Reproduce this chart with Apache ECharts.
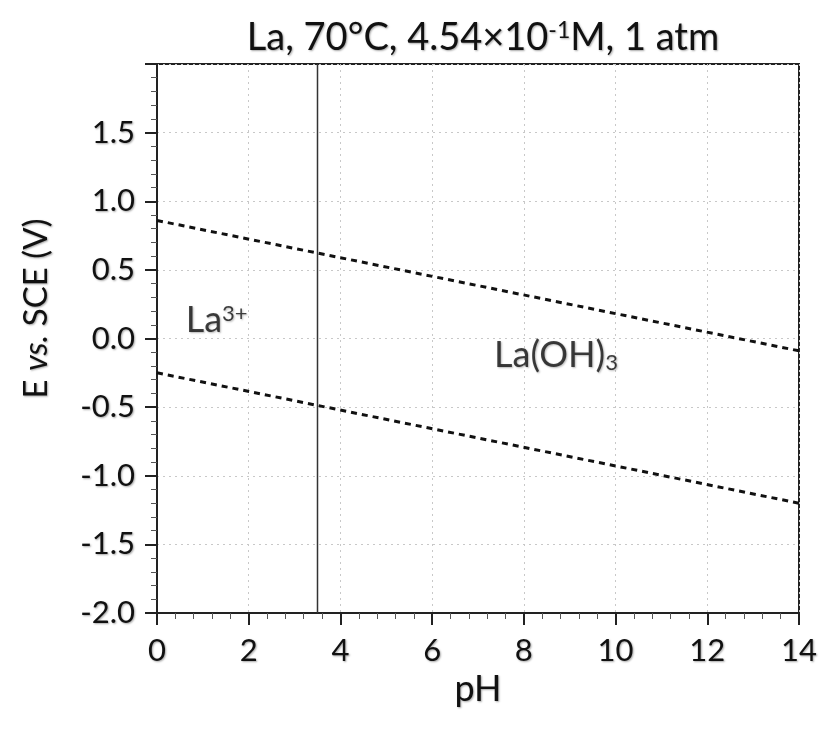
<!DOCTYPE html>
<html>
<head>
<meta charset="utf-8">
<title>La Pourbaix</title>
<script src="https://cdn.jsdelivr.net/npm/echarts@6/dist/echarts.min.js"></script>
<style>
  html, body { margin: 0; padding: 0; background: #fff; }
  #main { width: 823px; height: 731px; }
</style>
</head>
<body>
<div id="main"></div>
<script>
// 数据
const pH = [0, 14];
const upperE = [0.86, -0.09];   // 上方虚线
const lowerE = [-0.25, -1.2];   // 下方虚线
const boundaryPH = 3.5;         // La3+ / La(OH)3 分界
const boundaryE = [-2.0, 2.0];
const regionNames = ["{n|La}{sup|3+}", "{n|La(OH)}{sub|3}"];
const regionPH = [1.3, 8.7];
const regionE = [0.13, -0.12];

const FONT = "Lato";
const shadow = {
  textShadowColor: "rgba(0,0,0,0.35)",
  textShadowBlur: 2,
  textShadowOffsetX: 1,
  textShadowOffsetY: 1,
  textBorderWidth: 0,
};
const tick = { fontFamily: FONT, fontSize: 31, fontWeight: "normal", color: "#111", ...shadow };
const big = { fontFamily: FONT, fontSize: 36, fontWeight: "normal", color: "#111", ...shadow };
const small = { fontFamily: FONT, fontSize: 22, fontWeight: "normal", color: "#111", ...shadow };

const chart = echarts.init(document.getElementById("main"));
chart.setOption({
  animation: false,
  title: {
    text: "{t|La, 70°C, 4.54×10}{sup|-1}{t|M, 1 atm}",
    left: 478,
    textAlign: "center",
    top: 14,
    textStyle: {
      ...big,
      rich: {
        t: { ...big, fontSize: 38 },
        sup: { ...small, fontSize: 23, padding: [0, 0, 15, 0] },
      },
    },
  },
  grid: {
    left: 157,
    right: 24,
    top: 64,
    bottom: 118,
    show: true,
    borderColor: "#222",
    borderWidth: 2,
  },
  xAxis: {
    type: "value",
    min: 0,
    max: 14,
    interval: 2,
    name: "pH",
    nameLocation: "middle",
    nameGap: 58,
    nameTextStyle: { ...big },
    axisLine: { show: true, onZero: false, lineStyle: { color: "#222", width: 2 } },
    axisTick: { show: true, inside: false, length: 12, lineStyle: { color: "#222", width: 2 } },
    minorTick: { show: true, splitNumber: 5, length: 6, lineStyle: { color: "#555", width: 1 } },
    axisLabel: { ...tick, margin: 22 },
    splitLine: { show: true, lineStyle: { color: "#c8c8c8", type: [2, 4], width: 1 } },
  },
  yAxis: {
    type: "value",
    min: -2.0,
    max: 2.0,
    interval: 0.5,
    name: "{n|E }{i|vs.}{n| SCE (V)}",
    nameLocation: "middle",
    nameRotate: 90,
    nameGap: 104,
    nameTextStyle: {
      ...big,
      padding: [0, 0, 0, 60],
      rich: {
        n: { ...big, fontSize: 33 },
        i: { ...big, fontSize: 33, fontStyle: "italic" },
      },
    },
    axisLine: { show: true, onZero: false, lineStyle: { color: "#222", width: 2 } },
    axisTick: { show: true, inside: false, length: 12, lineStyle: { color: "#222", width: 2 } },
    minorTick: { show: true, splitNumber: 5, length: 6, lineStyle: { color: "#555", width: 1 } },
    axisLabel: {
      ...tick,
      margin: 22,
      formatter: function (v) {
        if (Math.abs(v - 2) < 1e-9) return "";
        return v.toFixed(1);
      },
    },
    splitLine: { show: true, lineStyle: { color: "#c8c8c8", type: [2, 4], width: 1 } },
  },
  series: [
    {
      name: "upper",
      type: "line",
      symbol: "none",
      data: pH.map((x, i) => [x, upperE[i]]),
      lineStyle: { color: "#111", width: 3, type: [6, 5] },
      z: 5,
    },
    {
      name: "lower",
      type: "line",
      symbol: "none",
      data: pH.map((x, i) => [x, lowerE[i]]),
      lineStyle: { color: "#111", width: 3, type: [6, 5] },
      z: 5,
    },
    {
      name: "boundary",
      type: "line",
      symbol: "none",
      data: boundaryE.map((e) => [boundaryPH, e]),
      lineStyle: { color: "#333", width: 1.5 },
      z: 4,
    },
    {
      name: "regions",
      type: "scatter",
      symbolSize: 0,
      silent: true,
      itemStyle: { color: "#111" },
      data: regionNames.map((n, i) => ({ value: [regionPH[i], regionE[i]], name: n })),
      label: {
        show: true,
        position: "inside",
        ...big,
        formatter: (p) => p.name,
        rich: {
          n: { ...big },
          sup: { ...small, padding: [0, 0, 14, 0] },
          sub: { ...small, padding: [16, 0, 0, 0] },
        },
      },
      z: 6,
    },
  ],
});
</script>
</body>
</html>
